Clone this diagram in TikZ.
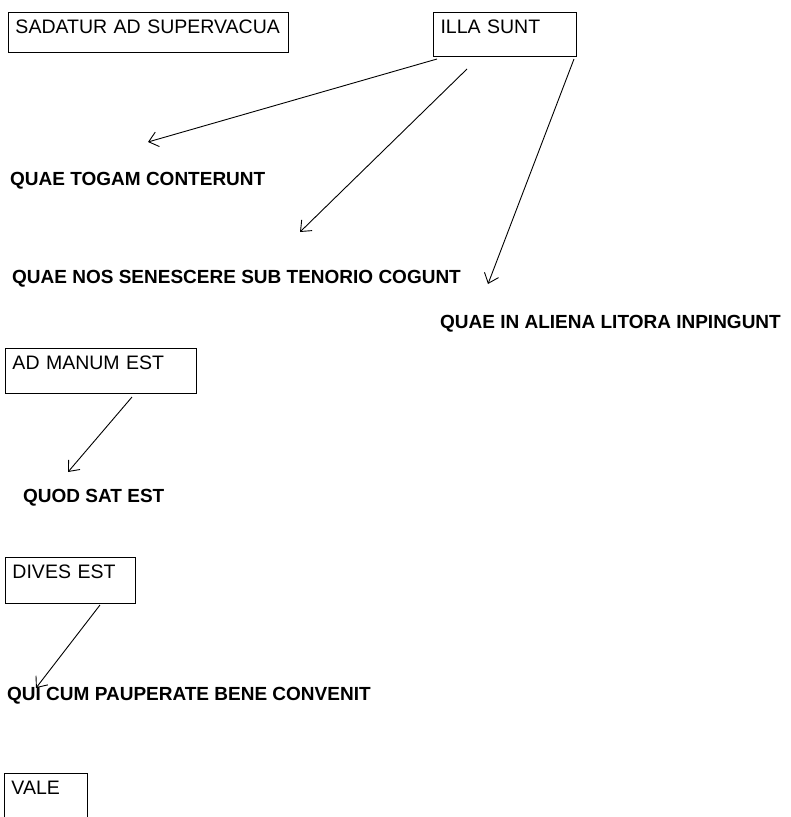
\documentclass[tikz,border=0pt]{standalone}
\usepackage{fontspec}
\setmainfont{Liberation Sans}
\usetikzlibrary{arrows.meta}
\newcommand{\boxfont}{\fontsize{19.5}{23}\selectfont}
\newcommand{\labfont}{\fontsize{19}{22}\selectfont\bfseries}
\begin{document}
\begin{tikzpicture}[
    x=1pt, y=-1pt,
    box/.style={draw, line width=1pt, anchor=north west, inner xsep=7pt, inner ysep=0pt, text height=21pt, align=left, font=\boxfont},
    lab/.style={anchor=base west, inner sep=0pt, font=\labfont},
    arrow/.style={line width=0.9pt, -{Straight Barb[length=9pt,width=15pt]}}
]
    \useasboundingbox (0,0) rectangle (791,817);
    \clip (0,0) rectangle (791,817);

    \node (sadatur) [box, text width=266pt, text depth=19pt] at (8,12) {SADATUR AD SUPERVACUA};
    \node (illa) [box, text width=129pt, text depth=23pt] at (433,12) {ILLA SUNT};
    \node (manum) [box, text width=177pt, text depth=24pt] at (5,348) {AD MANUM EST};
    \node (dives) [box, text width=116pt, text depth=25pt] at (5,557) {DIVES EST};
    \node (vale) [box, text width=69pt, text depth=45pt] at (4,773) {VALE};

    \node (togam) [lab] at (10,185) {QUAE TOGAM CONTERUNT};
    \node (nos) [lab] at (12,283) {QUAE NOS SENESCERE SUB TENORIO COGUNT};
    \node (aliena) [lab] at (440,328) {QUAE IN ALIENA LITORA INPINGUNT};
    \node (quod) [lab] at (23,502) {QUOD SAT EST};
    \node (qui) [lab] at (7,700) {QUI CUM PAUPERATE BENE CONVENIT};

    \coordinate (togamtip) at (148,142);
    \coordinate (nostip) at (300,232);
    \coordinate (alienatip) at (488,284);
    \coordinate (quodtip) at (68,472);
    \coordinate (quitip) at (36,688);

    \draw [arrow] ([shift={(4,2)}]illa.south west) -- (togamtip);
    \draw [arrow] ([shift={(34,12)}]illa.south west) -- (nostip);
    \draw [arrow] ([shift={(-3,2)}]illa.south east) -- (alienatip);
    \draw [arrow] ([shift={(127,3)}]manum.south west) -- (quodtip);
    \draw [arrow] ([shift={(95,1)}]dives.south west) -- (quitip);
\end{tikzpicture}
\end{document}
